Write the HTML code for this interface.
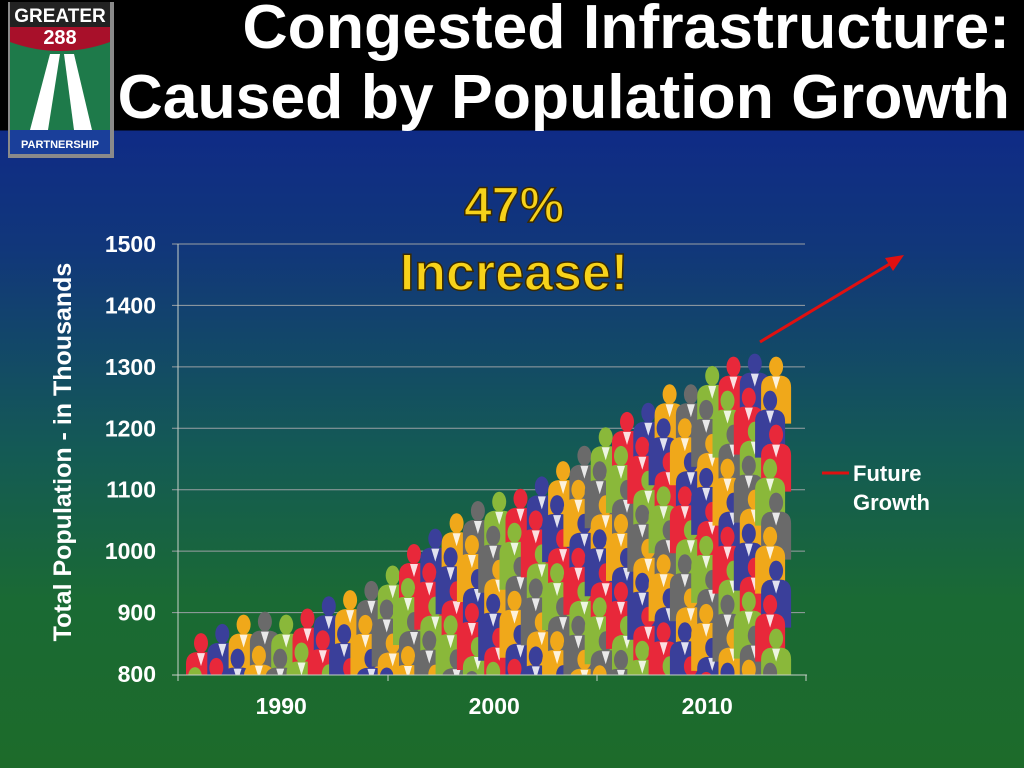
<!DOCTYPE html>
<html><head><meta charset="utf-8">
<style>
html,body{margin:0;padding:0;}
body{width:1024px;height:768px;overflow:hidden;position:relative;font-family:"Liberation Sans",Arial,sans-serif;
background:linear-gradient(to bottom,#000 0px,#000 130px,#0f2b86 131px,#11377a 250px,#145a55 450px,#1a6a34 600px,#1d6b2a 768px);}
.t{position:absolute;color:#fff;font-weight:bold;line-height:1;}
</style></head><body>
<div style="position:absolute;left:0;top:0;width:1024px;height:130px;background:#000"></div>
<svg style="position:absolute;left:8px;top:2px" width="106" height="156" viewBox="0 0 106 156">
<rect x="0" y="0" width="106" height="156" fill="#8a8a8a"/>
<rect x="2" y="0" width="100" height="152" fill="#1e7a4a"/>
<rect x="2" y="0" width="100" height="25" fill="#222"/>
<path d="M2 25 H102 V40 Q52 58 2 40 Z" fill="#a8102a"/>
<text x="52" y="20" fill="#fff" font-size="19" font-weight="bold" text-anchor="middle" font-family="Liberation Sans">GREATER</text>
<text x="52" y="42" fill="#fff" font-size="20" font-weight="bold" text-anchor="middle" font-family="Liberation Sans">288</text>
<polygon points="42,52 52,52 40,128 22,128" fill="#fff"/>
<polygon points="56,52 66,52 84,128 66,128" fill="#fff"/>
<rect x="2" y="128" width="100" height="24" fill="#1a3f9a"/>
<text x="52" y="146" fill="#fff" font-size="11" font-weight="bold" text-anchor="middle" font-family="Liberation Sans">PARTNERSHIP</text>
</svg>
<div class="t" style="right:14px;top:-4px;font-size:62.5px;white-space:nowrap">Congested Infrastructure:</div>
<div class="t" style="right:14px;top:66px;font-size:62.5px;white-space:nowrap">Caused by Population Growth</div>

<svg id="chart" width="1024" height="768" style="position:absolute;left:0;top:0">
<defs><clipPath id="plotclip"><rect x="178" y="200" width="627" height="475"/></clipPath></defs>
<g id="grid"></g>
<g id="people" clip-path="url(#plotclip)"></g>
<g id="axes"></g>
<text x="514" y="222" font-size="50" font-weight="bold" fill="#f7d21a" stroke="#3a2a00" stroke-width="1.5" text-anchor="middle" font-family="Liberation Sans">47%</text>
<text x="514" y="290" font-size="52" font-weight="bold" fill="#f7d21a" stroke="#3a2a00" stroke-width="1.5" text-anchor="middle" font-family="Liberation Sans">Increase!</text>
<g>
<line x1="760" y1="342" x2="893" y2="262" stroke="#e01010" stroke-width="3"/>
<polygon points="904,255 885,258 893,271" fill="#e01010"/>
</g>
<line x1="822" y1="473" x2="849" y2="473" stroke="#e01010" stroke-width="3"/>
<text font-size="22" font-weight="bold" fill="#fff" font-family="Liberation Sans"><tspan x="853" y="481">Future</tspan><tspan x="853" y="510">Growth</tspan></text>
<text transform="translate(71,452) rotate(-90)" font-size="25" font-weight="bold" fill="#fff" text-anchor="middle" font-family="Liberation Sans">Total Population - in Thousands</text>
</svg>
<script>
const years=[1986,1987,1988,1989,1990,1991,1992,1993,1994,1995,1996,1997,1998,1999,2000,2001,2002,2003,2004,2005,2006,2007,2008,2009,2010,2011,2012,2013];
const population=[865,880,895,900,895,905,925,935,950,975,1010,1035,1060,1080,1095,1100,1120,1145,1170,1200,1225,1240,1270,1270,1300,1315,1320,1315];
const yTicks=[800,900,1000,1100,1200,1300,1400,1500];
const xLabels=["1990","2000","2010"];
const xLabelYears=[1990,2000,2010];
const NS="http://www.w3.org/2000/svg";
const y=v=>674-(v-800)*430/700;
const x=yr=>198+(yr-1986)*21.3;
function mk(t,a,p){const e=document.createElementNS(NS,t);for(const k in a)e.setAttribute(k,a[k]);p.appendChild(e);return e;}
const grid=document.getElementById('grid'),axes=document.getElementById('axes'),ppl=document.getElementById('people');
yTicks.forEach(v=>{
  if(v>800){const l=mk('line',{x1:172,x2:805,y1:y(v),y2:y(v),stroke:'#9aa0a4','stroke-width':1},grid);
  
  }
  const t=mk('text',{x:156,y:y(v)+8,'text-anchor':'end','font-size':23,'font-weight':'bold',fill:'#fff','font-family':'Liberation Sans'},axes);
  t.textContent=v;
  
  
});
const ax=mk('line',{x1:178,x2:178,y1:244,y2:675,stroke:'#c8d0c8','stroke-width':1},axes);


const bx=mk('line',{x1:172,x2:807,y1:675,y2:675,stroke:'#c8d0c8','stroke-width':1},axes);


[178,388,597,806].forEach(px=>{const tk=mk('line',{x1:px,x2:px,y1:675,y2:681,stroke:'#c8d0c8'},axes);

});
xLabels.forEach((s,i)=>{const t=mk('text',{x:x(xLabelYears[i])-2,y:714,'text-anchor':'middle','font-size':23,'font-weight':'bold',fill:'#fff','font-family':'Liberation Sans'},axes);
t.textContent=s;

});
const cols=['#e8283a','#f0a81a','#8ab83a','#3a3f9a','#6a6a6a'];
years.forEach((yr,i)=>{
  const cx=x(yr),top=y(population[i]);
  const g=mk('g',{},ppl);
  
  
  let k=0;
  for(let py=top;py<690;py+=34){
    const c=cols[(i*3+k*2)%5];const off=(k%2?-3:3);
    const hx=cx+off;
    mk('path',{d:`M${hx-15} ${py+66} L${hx-15} ${py+30} Q${hx-15} ${py+19} ${hx-5} ${py+18} L${hx+5} ${py+18} Q${hx+15} ${py+19} ${hx+15} ${py+30} L${hx+15} ${py+66} Z`,fill:c},g);
    mk('ellipse',{cx:hx,cy:py+9,rx:7,ry:10,fill:c},g);
    mk('path',{d:`M${hx-4} ${py+19} L${hx+4} ${py+19} L${hx} ${py+32} Z`,fill:'#fff',opacity:0.85},g);
    k++;
  }
});
</script>
</body></html>
